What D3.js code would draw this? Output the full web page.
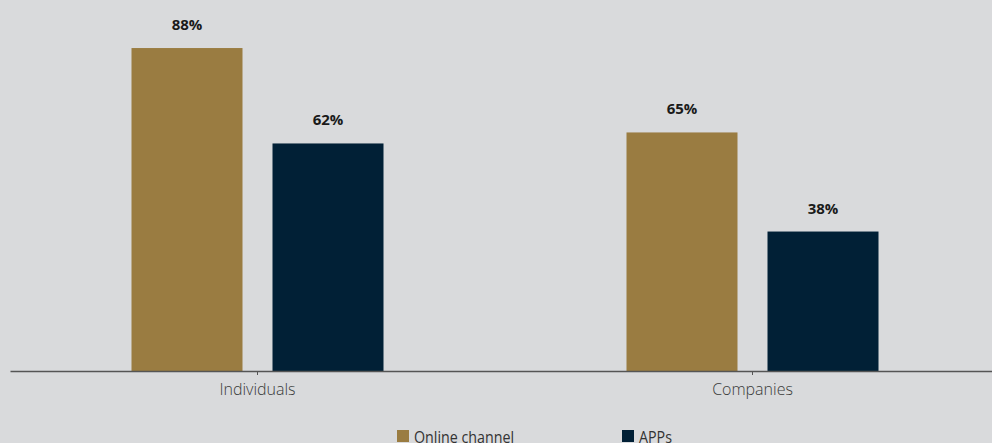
<!DOCTYPE html>
<html>
<head>
<meta charset="utf-8">
<script src="https://cdn.jsdelivr.net/npm/d3@7"></script>
<style>
  html, body { margin: 0; padding: 0; background: #d9dadc; }
  svg { display: block; }
  .value-label { font-family: "Open Sans", sans-serif; font-weight: 700; font-size: 15px; fill: #1a1a1a; }
  .x-axis text { font-family: "Open Sans", sans-serif; font-weight: 300; font-size: 16px; fill: #3a3a3a; }
  .legend text { font-family: "Liberation Sans Narrow", "Open Sans", sans-serif; font-size: 17px; fill: #333; }
</style>
</head>
<body>
<svg id="chart" width="992" height="443"></svg>
<script>
// Share of users by channel
const categories = ["Individuals", "Companies"];
const seriesNames = ["Online channel", "APPs"];
const onlineChannel = [88, 65];
const apps = [62, 38];
const seriesColors = ["#9a7c41", "#012036"];

const seriesValues = [onlineChannel, apps];

const svg = d3.select("#chart");

const baseline = 371;
const x0 = d3.scaleBand().domain(categories).range([10, 1000]).padding(0);
const groupWidth = 252;
const x1 = d3.scaleBand().domain(seriesNames)
  .range([(x0.bandwidth() - groupWidth) / 2, (x0.bandwidth() + groupWidth) / 2])
  .paddingInner(0.2128).paddingOuter(0);
const y = d3.scaleLinear().domain([0, 100]).range([baseline, 4]);
const color = d3.scaleOrdinal().domain(seriesNames).range(seriesColors);

const rows = categories.map((c, i) => ({
  category: c,
  values: seriesNames.map((s, j) => ({ series: s, value: seriesValues[j][i] }))
}));

const groups = svg.append("g").selectAll("g")
  .data(rows).join("g")
  .attr("transform", d => `translate(${x0(d.category)},0)`);

groups.selectAll("rect")
  .data(d => d.values).join("rect")
  .attr("x", d => x1(d.series))
  .attr("y", d => y(d.value))
  .attr("width", x1.bandwidth())
  .attr("height", d => baseline - y(d.value))
  .attr("fill", d => color(d.series));

groups.selectAll("text")
  .data(d => d.values).join("text")
  .attr("class", "value-label")
  .attr("x", d => x1(d.series) + x1.bandwidth() / 2)
  .attr("y", d => y(d.value) - 18)
  .attr("text-anchor", "middle")
  .text(d => d.value + "%");

// category axis
const axis = svg.append("g")
  .attr("class", "x-axis")
  .attr("transform", `translate(0,${baseline})`)
  .call(d3.axisBottom(x0).tickSize(4).tickSizeOuter(0).tickPadding(9));
axis.select(".domain").attr("stroke", "#555").attr("stroke-width", 1.5);
axis.selectAll(".tick line").attr("stroke", "#555");

// legend
const legendX = [397, 622];
const legend = svg.append("g").attr("class", "legend")
  .selectAll("g").data(seriesNames).join("g")
  .attr("transform", (d, i) => `translate(${legendX[i]},430)`);
legend.append("rect").attr("width", 12).attr("height", 12).attr("fill", d => color(d));
legend.append("text")
  .attr("transform", "translate(17,12.5) scale(0.84,1)")
  .text(d => d);
</script>
</body>
</html>
